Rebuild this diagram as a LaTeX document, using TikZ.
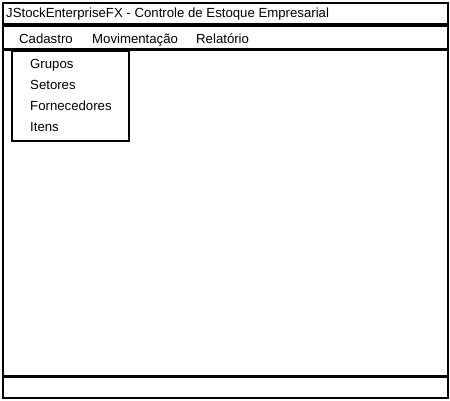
\documentclass[tikz,border=0pt]{standalone}
\usepackage{fontspec}
\setmainfont{Liberation Sans}
\begin{document}
\begin{tikzpicture}[x=1pt,y=-1pt,
  panel/.style={draw=black,line width=1.7pt,fill=white},
  lbl/.style={anchor=base west,inner sep=0pt,font=\fontsize{13.2}{15}\selectfont}]
\useasboundingbox[fill=white] (0,0) rectangle (450,400);
\node[panel,minimum width=445pt,minimum height=21pt,anchor=north west,inner sep=0pt] (title) at (2,2) {};
\node[panel,minimum width=445pt,minimum height=23pt,anchor=north west,inner sep=0pt] (menubar) at (2,25) {};
\node[panel,minimum width=445pt,minimum height=326pt,anchor=north west,inner sep=0pt] (main) at (2,49) {};
\node[panel,minimum width=445pt,minimum height=21pt,anchor=north west,inner sep=0pt] (status) at (2,376) {};
\node[panel,minimum width=117pt,minimum height=90pt,anchor=north west,inner sep=0pt] (dropdown) at (11,50) {};
\node[lbl] (ttext) at (6,17) {JStockEnterpriseFX - Controle de Estoque Empresarial};
\node[lbl] (cad) at (19,43) {Cadastro};
\node[lbl] (mov) at (92,43) {Movimentação};
\node[lbl] (rel) at (196,43) {Relatório};
\node[lbl] (gru) at (30,68) {Grupos};
\node[lbl] (set) at (30,89) {Setores};
\node[lbl] (forn) at (30,110) {Fornecedores};
\node[lbl] (itens) at (30,131) {Itens};
\end{tikzpicture}
\end{document}
